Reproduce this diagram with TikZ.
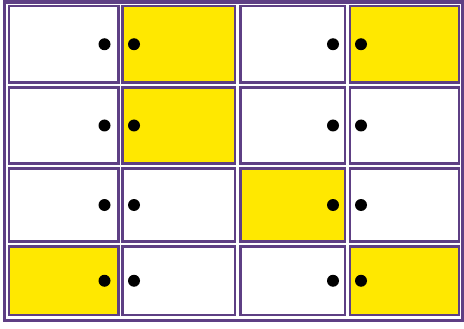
\documentclass[tikz,border=0pt]{standalone}
\usepackage{tikz}
\usetikzlibrary{positioning}
\definecolor{frame}{HTML}{5E3F84}
\definecolor{lamp}{HTML}{FFE800}

\begin{document}
\begin{tikzpicture}[
    x=1pt, y=-1pt,
    cell/.style={rectangle, draw=frame, line width=2.5pt, fill=white,
                 outer sep=0pt, inner sep=0pt},
    lit/.style={cell, fill=lamp},
    dot/.style={circle, fill=black, minimum size=12pt, inner sep=0pt, outer sep=0pt},
    col1/.style={minimum width=109.5pt},
    col2/.style={minimum width=112.5pt},
    col3/.style={minimum width=104.5pt},
    col4/.style={minimum width=109pt},
    row1/.style={minimum height=76.5pt},
    row2/.style={minimum height=76pt},
    row3/.style={minimum height=73pt},
    row4/.style={minimum height=68.5pt}
]
\useasboundingbox (0,0) rectangle (464,329);
\draw[frame, line width=3.5pt] (4.5,2) rectangle (462.5,320.5);

% row 1
\node[cell, col1, row1] (c11) at (63.75,44.25) {};
\node[lit,  col2, row1] (c12) at (178.75,44.25) {};
\node[cell, col3, row1] (c13) at (292.75,44.25) {};
\node[lit,  col4, row1] (c14) at (404.5,44.25) {};
% row 2
\node[cell, col1, row2] (c21) at (63.75,125.5) {};
\node[lit,  col2, row2] (c22) at (178.75,125.5) {};
\node[cell, col3, row2] (c23) at (292.75,125.5) {};
\node[cell, col4, row2] (c24) at (404.5,125.5) {};
% row 3
\node[cell, col1, row3] (c31) at (63.75,205) {};
\node[cell, col2, row3] (c32) at (178.75,205) {};
\node[lit,  col3, row3] (c33) at (292.75,205) {};
\node[cell, col4, row3] (c34) at (404.5,205) {};
% row 4
\node[lit,  col1, row4] (c41) at (63.75,280.75) {};
\node[cell, col2, row4] (c42) at (178.75,280.75) {};
\node[cell, col3, row4] (c43) at (292.75,280.75) {};
\node[lit,  col4, row4] (c44) at (404.5,280.75) {};

% dots at the inner edges of each pair
\foreach \r in {1,...,4} {
  \node[dot, left=8pt of c\r1.east] (d\r1) {};
  \node[dot, right=5.5pt of c\r2.west] (d\r2) {};
  \node[dot, left=6pt of c\r3.east] (d\r3) {};
  \node[dot, right=5pt of c\r4.west] (d\r4) {};
}
\end{tikzpicture}
\end{document}
